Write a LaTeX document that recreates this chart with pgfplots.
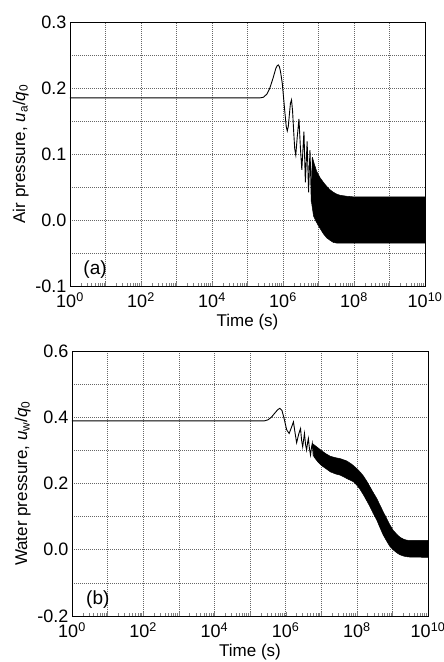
\documentclass[border=0pt]{standalone}
\usepackage{fontspec}
\setmainfont{Liberation Sans}
\usepackage{pgfplots}
\pgfplotsset{compat=1.18}
\begin{document}
\begin{tikzpicture}
\path[use as bounding box] (0pt,0pt) rectangle (444pt,662pt);
\begin{axis}[
  scale only axis,
  at={(70pt,376pt)}, anchor=south west,
  width=355pt, height=264pt,
  xmode=log, log basis x=10,
  xmin=1, xmax=1e10,
  xtick={1e0,1e1,1e2,1e3,1e4,1e5,1e6,1e7,1e8,1e9,1e10},
  xticklabels={{10\textsuperscript{0}},{},{10\textsuperscript{2}},{},{10\textsuperscript{4}},{},{10\textsuperscript{6}},{},{10\textsuperscript{8}},{},{10\textsuperscript{10}}},
  minor xtick={2e0,3e0,4e0,5e0,6e0,7e0,8e0,9e0,2e1,3e1,4e1,5e1,6e1,7e1,8e1,9e1,2e2,3e2,4e2,5e2,6e2,7e2,8e2,9e2,2e3,3e3,4e3,5e3,6e3,7e3,8e3,9e3,2e4,3e4,4e4,5e4,6e4,7e4,8e4,9e4,2e5,3e5,4e5,5e5,6e5,7e5,8e5,9e5,2e6,3e6,4e6,5e6,6e6,7e6,8e6,9e6,2e7,3e7,4e7,5e7,6e7,7e7,8e7,9e7,2e8,3e8,4e8,5e8,6e8,7e8,8e8,9e8,2e9,3e9,4e9,5e9,6e9,7e9,8e9,9e9},
  xtick pos=left, ytick pos=left,
  tick align=inside,
  major tick length=4pt, minor tick length=2.5pt,
  ytick style={draw=none},
  xmajorgrids=true, ymajorgrids=true, yminorgrids=true,
  major grid style={dash pattern=on 1pt off 1pt, line width=0.6pt, black!60},
  minor grid style={dash pattern=on 1pt off 1pt, line width=0.6pt, black!60},
  axis line style={line width=0.9pt},
  yticklabel style={/pgf/number format/fixed, /pgf/number format/fixed zerofill, /pgf/number format/precision=1, /pgf/number format/assume math mode=true},
  xticklabel style={yshift=-3pt},
  tick label style={font=\fontsize{18}{21}\selectfont},
  label style={font=\fontsize{17}{20}\selectfont},
  xlabel={Time (s)},
  ymin=-0.1, ymax=0.3,
  ytick={-0.1,0,0.1,0.2,0.3},
  minor ytick={-0.05,0.05,0.15,0.25},
  ylabel={Air pressure, \textit{u}\textsubscript{a}/\textit{q}\textsubscript{0}},
]
\addplot[black, line width=0.9pt] coordinates {
(1,0.185) (2.239e5,0.185) (2.818e5,0.186) (3.548e5,0.191) (4.266e5,0.200)
(5.248e5,0.215) (6.310e5,0.230) (6.918e5,0.234) (7.413e5,0.235) (7.943e5,0.232)
(8.511e5,0.225) (9.550e5,0.207) (1.122e6,0.165) (1.230e6,0.142) (1.318e6,0.135)
(1.413e6,0.142) (1.514e6,0.160) (1.622e6,0.177) (1.738e6,0.182) (1.862e6,0.165)
(1.995e6,0.135) (2.138e6,0.108) (2.291e6,0.0985) (2.512e6,0.125) (2.818e6,0.153)
(3.090e6,0.110) (3.388e6,0.076) (3.631e6,0.105) (3.890e6,0.134) (4.266e6,0.057)
(4.786e6,0.119) (5.248e6,0.042) (5.754e6,0.106) (6.310e6,0.028) (6.761e6,0.095)
(7.244e6,0.010)
};
\addplot[black, fill=black, line width=0.5pt] coordinates {
(6.761e6,0.095) (7.586e6,0.085) (8.913e6,0.0735) (1.122e7,0.0635) (1.380e7,0.057)
(1.698e7,0.051) (2.089e7,0.046) (2.630e7,0.042) (3.311e7,0.039) (4.074e7,0.0375)
(6.166e7,0.036) (1e8,0.035) (1e10,0.035) (1e10,-0.035) (3.311e7,-0.035)
(2.630e7,-0.034) (2.138e7,-0.031) (1.698e7,-0.027) (1.380e7,-0.021) (1.175e7,-0.015)
(1e7,-0.009) (8.511e6,-0.002) (7.244e6,0.006) (6.310e6,0.028) (6.761e6,0.095)
};
\node[anchor=base west, font=\fontsize{19}{22}\selectfont] at (axis cs:1.9,-0.082) {(a)};
\end{axis}
\begin{axis}[
  scale only axis,
  at={(72pt,46pt)}, anchor=south west,
  width=356pt, height=265pt,
  xmode=log, log basis x=10,
  xmin=1, xmax=1e10,
  xtick={1e0,1e1,1e2,1e3,1e4,1e5,1e6,1e7,1e8,1e9,1e10},
  xticklabels={{10\textsuperscript{0}},{},{10\textsuperscript{2}},{},{10\textsuperscript{4}},{},{10\textsuperscript{6}},{},{10\textsuperscript{8}},{},{10\textsuperscript{10}}},
  minor xtick={2e0,3e0,4e0,5e0,6e0,7e0,8e0,9e0,2e1,3e1,4e1,5e1,6e1,7e1,8e1,9e1,2e2,3e2,4e2,5e2,6e2,7e2,8e2,9e2,2e3,3e3,4e3,5e3,6e3,7e3,8e3,9e3,2e4,3e4,4e4,5e4,6e4,7e4,8e4,9e4,2e5,3e5,4e5,5e5,6e5,7e5,8e5,9e5,2e6,3e6,4e6,5e6,6e6,7e6,8e6,9e6,2e7,3e7,4e7,5e7,6e7,7e7,8e7,9e7,2e8,3e8,4e8,5e8,6e8,7e8,8e8,9e8,2e9,3e9,4e9,5e9,6e9,7e9,8e9,9e9},
  xtick pos=left, ytick pos=left,
  tick align=inside,
  major tick length=4pt, minor tick length=2.5pt,
  ytick style={draw=none},
  xmajorgrids=true, ymajorgrids=true, yminorgrids=true,
  major grid style={dash pattern=on 1pt off 1pt, line width=0.6pt, black!60},
  minor grid style={dash pattern=on 1pt off 1pt, line width=0.6pt, black!60},
  axis line style={line width=0.9pt},
  yticklabel style={/pgf/number format/fixed, /pgf/number format/fixed zerofill, /pgf/number format/precision=1, /pgf/number format/assume math mode=true},
  xticklabel style={yshift=-3pt},
  tick label style={font=\fontsize{18}{21}\selectfont},
  label style={font=\fontsize{17}{20}\selectfont},
  xlabel={Time (s)},
  ymin=-0.2, ymax=0.6,
  ytick={-0.2,0,0.2,0.4,0.6},
  minor ytick={-0.1,0.1,0.3,0.5},
  ylabel={Water pressure, \textit{u}\textsubscript{w}/\textit{q}\textsubscript{0}},
]
\addplot[black, line width=0.9pt] coordinates {
(1,0.389) (2.512e5,0.389) (3.162e5,0.392) (3.981e5,0.400) (5.012e5,0.413)
(6.026e5,0.423) (6.918e5,0.427) (7.943e5,0.420) (9.120e5,0.395) (1.072e6,0.362)
(1.259e6,0.351) (1.445e6,0.368) (1.660e6,0.386) (1.862e6,0.350) (2.042e6,0.323)
(2.344e6,0.350) (2.630e6,0.366) (2.818e6,0.330) (3.020e6,0.311) (3.236e6,0.335)
(3.388e6,0.351) (3.631e6,0.318) (3.890e6,0.301) (4.169e6,0.325) (4.365e6,0.336)
(4.677e6,0.305) (5.012e6,0.286) (5.370e6,0.310) (5.623e6,0.321) (6.026e6,0.282)
};
\addplot[black, fill=black, line width=0.5pt] coordinates {
(5.623e6,0.321) (7.413e6,0.311) (1e7,0.300) (1.349e7,0.290) (1.820e7,0.282)
(2.512e7,0.278) (3.467e7,0.275) (5.248e7,0.268) (7.244e7,0.258) (1e8,0.245)
(1.259e8,0.234) (1.549e8,0.222) (1.905e8,0.207) (2.344e8,0.190) (2.884e8,0.173)
(3.631e8,0.155) (4.467e8,0.135) (5.495e8,0.115) (6.918e8,0.094) (8.511e8,0.075)
(1.047e9,0.059) (1.318e9,0.047) (1.622e9,0.038) (2.042e9,0.032) (2.512e9,0.029)
(3.090e9,0.028) (1e10,0.028) (1e10,-0.023) (3.090e9,-0.022) (2.512e9,-0.021)
(2.042e9,-0.019) (1.622e9,-0.015) (1.318e9,-0.009) (1.047e9,0.0) (8.511e8,0.010)
(6.918e8,0.026) (5.495e8,0.045) (4.467e8,0.067) (3.631e8,0.090) (2.884e8,0.110)
(2.344e8,0.130) (1.905e8,0.148) (1.549e8,0.165) (1.259e8,0.181) (1e8,0.195)
(8.128e7,0.205) (5.248e7,0.215) (3.467e7,0.225) (2.512e7,0.229) (1.820e7,0.235)
(1.349e7,0.245) (1e7,0.255) (7.943e6,0.266) (6.310e6,0.280) (5.623e6,0.321)
};
\node[anchor=base west, font=\fontsize{19}{22}\selectfont] at (axis cs:2.0,-0.164) {(b)};
\end{axis}
\end{tikzpicture}
\end{document}
